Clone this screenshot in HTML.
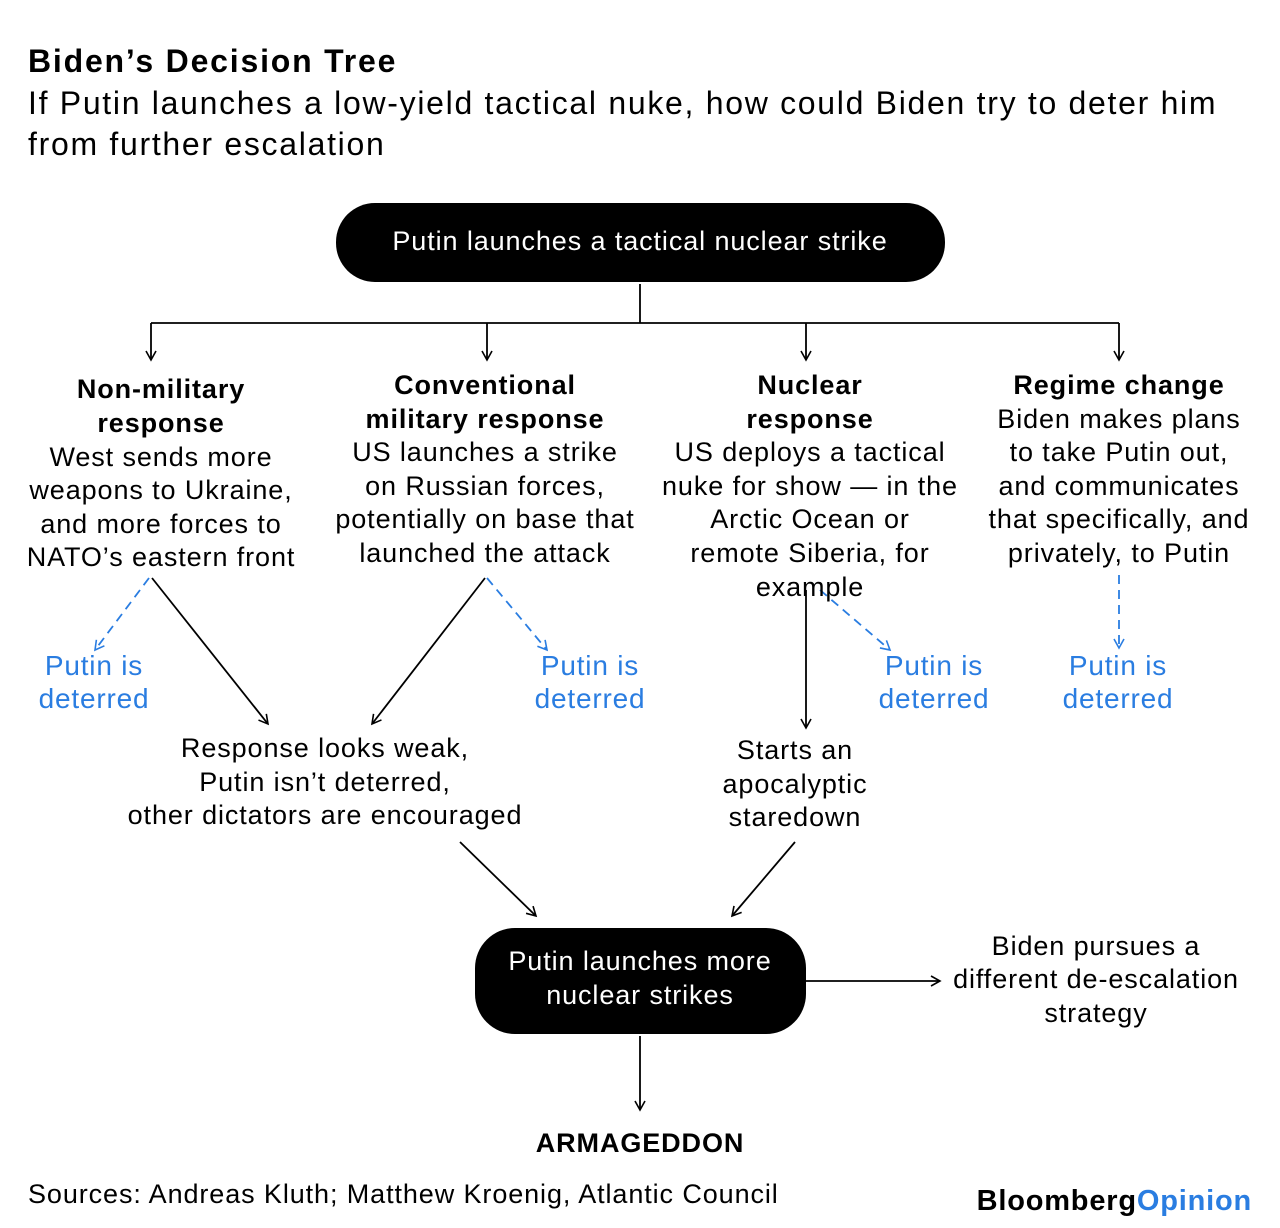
<!DOCTYPE html>
<html><head><meta charset="utf-8"><style>
html,body{margin:0;padding:0;background:#fff}
svg{display:block}
text{font-family:"Liberation Sans",Arial,sans-serif}
</style></head><body>
<svg width="1280" height="1228" viewBox="0 0 1280 1228" xmlns="http://www.w3.org/2000/svg">
<defs>
<marker id="a" viewBox="0 0 12 12" refX="10" refY="6" markerWidth="12" markerHeight="12" markerUnits="userSpaceOnUse" orient="auto"><path d="M1,1 L10,6 L1,11" fill="none" stroke="#000" stroke-width="1.6"/></marker>
<marker id="b" viewBox="0 0 12 12" refX="10" refY="6" markerWidth="12" markerHeight="12" markerUnits="userSpaceOnUse" orient="auto"><path d="M1,1 L10,6 L1,11" fill="none" stroke="#2a7de1" stroke-width="1.6"/></marker>
</defs>
<text x="28" y="72" font-size="32" font-weight="bold" letter-spacing="1.8" fill="#000">Biden’s Decision Tree</text>
<text x="28" y="114" font-size="32" letter-spacing="1.7" fill="#000">If Putin launches a low-yield tactical nuke, how could Biden try to deter him</text>
<text x="28" y="155" font-size="32" letter-spacing="1.7" fill="#000">from further escalation</text>

<rect x="336" y="203" width="609" height="79" rx="39" fill="#000"/>
<text x="640" y="250" font-size="27" letter-spacing="0.9" fill="#fff" text-anchor="middle">Putin launches a tactical nuclear strike</text>

<g stroke="#000" stroke-width="1.8" fill="none">
<path d="M640,284 V323 M151,323 H1119"/>
<path d="M151,323 V360" marker-end="url(#a)"/>
<path d="M487,323 V360" marker-end="url(#a)"/>
<path d="M806,323 V360" marker-end="url(#a)"/>
<path d="M1119,323 V360" marker-end="url(#a)"/>
<path d="M152,578 L268,724" marker-end="url(#a)"/>
<path d="M485,578 L372,724" marker-end="url(#a)"/>
<path d="M806,590 V728" marker-end="url(#a)"/>
<path d="M460,842 L536,916" marker-end="url(#a)"/>
<path d="M795,842 L732,916" marker-end="url(#a)"/>
<path d="M806,981 H940" marker-end="url(#a)"/>
<path d="M640,1036 V1110" marker-end="url(#a)"/>
</g>
<g stroke="#2a7de1" stroke-width="1.8" fill="none" stroke-dasharray="9,6">
<path d="M149,578 L95,650" marker-end="url(#b)"/>
<path d="M487,578 L547,650" marker-end="url(#b)"/>
<path d="M820,590 L890,650" marker-end="url(#b)"/>
<path d="M1119,575 V648" marker-end="url(#b)"/>
</g>

<g font-size="27" letter-spacing="0.9" fill="#000" text-anchor="middle">
<text x="161" y="398" font-weight="bold">Non-military</text>
<text x="161" y="432" font-weight="bold">response</text>
<text x="161" y="466">West sends more</text>
<text x="161" y="499">weapons to Ukraine,</text>
<text x="161" y="533">and more forces to</text>
<text x="161" y="566">NATO’s eastern front</text>

<text x="485" y="394" font-weight="bold">Conventional</text>
<text x="485" y="428" font-weight="bold">military response</text>
<text x="485" y="461">US launches a strike</text>
<text x="485" y="495">on Russian forces,</text>
<text x="485" y="528">potentially on base that</text>
<text x="485" y="562">launched the attack</text>

<text x="810" y="394" font-weight="bold">Nuclear</text>
<text x="810" y="428" font-weight="bold">response</text>
<text x="810" y="461">US deploys a tactical</text>
<text x="810" y="495">nuke for show — in the</text>
<text x="810" y="528">Arctic Ocean or</text>
<text x="810" y="562">remote Siberia, for</text>
<text x="810" y="596">example</text>

<text x="1119" y="394" font-weight="bold">Regime change</text>
<text x="1119" y="428">Biden makes plans</text>
<text x="1119" y="461">to take Putin out,</text>
<text x="1119" y="495">and communicates</text>
<text x="1119" y="528">that specifically, and</text>
<text x="1119" y="562">privately, to Putin</text>

<text x="325" y="757">Response looks weak,</text>
<text x="325" y="791">Putin isn’t deterred,</text>
<text x="325" y="824">other dictators are encouraged</text>

<text x="795" y="759">Starts an</text>
<text x="795" y="793">apocalyptic</text>
<text x="795" y="826">staredown</text>

<text x="1096" y="955">Biden pursues a</text>
<text x="1096" y="988">different de-escalation</text>
<text x="1096" y="1022">strategy</text>

<text x="640" y="1152" font-weight="bold">ARMAGEDDON</text>
</g>

<g font-size="28" letter-spacing="0.8" fill="#2a7de1" text-anchor="middle">
<text x="94" y="675">Putin is</text><text x="94" y="708">deterred</text>
<text x="590" y="675">Putin is</text><text x="590" y="708">deterred</text>
<text x="934" y="675">Putin is</text><text x="934" y="708">deterred</text>
<text x="1118" y="675">Putin is</text><text x="1118" y="708">deterred</text>
</g>

<rect x="475" y="928" width="331" height="106" rx="40" fill="#000"/>
<g font-size="27" letter-spacing="0.9" fill="#fff" text-anchor="middle">
<text x="640" y="970">Putin launches more</text>
<text x="640" y="1004">nuclear strikes</text>
</g>

<text x="28" y="1203" font-size="27" letter-spacing="0.9" fill="#000">Sources: Andreas Kluth; Matthew Kroenig, Atlantic Council</text>
<text x="1252" y="1210" font-size="29" font-weight="bold" text-anchor="end" letter-spacing="0.8" fill="#000">Bloomberg<tspan fill="#2a7de1">Opinion</tspan></text>
</svg>
</body></html>
